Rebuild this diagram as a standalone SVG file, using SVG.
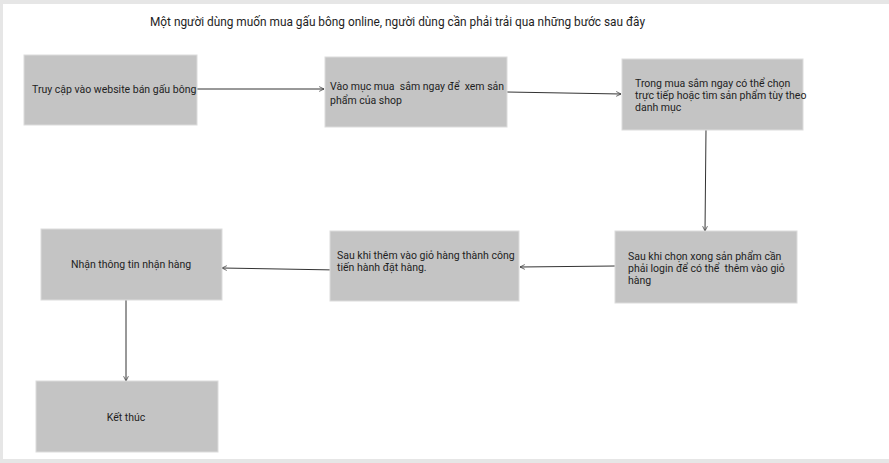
<svg xmlns="http://www.w3.org/2000/svg" width="889" height="463" viewBox="0 0 889 463">
<defs>
<marker id="arr" viewBox="0 0 10 10" refX="9" refY="5" markerWidth="6" markerHeight="6" orient="auto" markerUnits="userSpaceOnUse">
<path d="M1,1 L9,5 L1,9" fill="none" stroke="#333" stroke-width="1.2"/>
</marker>
<style>
.box{fill:#c4c4c4;stroke:#dcdcdc;stroke-width:1}
.t{font-family:Roboto,"Liberation Sans",sans-serif;font-size:10.5px;fill:#1e1e1e;white-space:pre}
.title{font-family:Roboto,"Liberation Sans",sans-serif;font-size:11.85px;fill:#1e1e1e}
.c{fill:none;stroke:#333;stroke-width:1}
</style>
</defs>
<rect x="0" y="0" width="889" height="463" fill="#e6e6e6"/>
<rect x="3" y="4" width="886" height="455" fill="#ffffff"/>
<text class="title" x="150" y="26">Một người dùng muốn mua gấu bông online, người dùng cần phải trải qua những bước sau đây</text>
<g id="connectors">
<line class="c" x1="196" y1="89" x2="324" y2="89" marker-end="url(#arr)"/>
<line class="c" x1="507" y1="92" x2="621" y2="94" marker-end="url(#arr)"/>
<line class="c" x1="706" y1="129" x2="705" y2="231" marker-end="url(#arr)"/>
<line class="c" x1="615" y1="266" x2="520" y2="267" marker-end="url(#arr)"/>
<line class="c" x1="337" y1="270" x2="222" y2="268" marker-end="url(#arr)"/>
<line class="c" x1="126" y1="300" x2="126" y2="381" marker-end="url(#arr)"/>
</g>
<g id="n1"><rect class="box" x="24" y="55" width="173" height="70"/><text class="t" x="32" y="93">Truy cập vào website bán gấu bông</text></g>
<g id="n2"><rect class="box" x="325" y="57" width="182" height="70"/><text class="t" x="330" y="90" xml:space="preserve">Vào mục mua  sắm ngay để  xem sản</text><text class="t" x="330" y="104">phẩm của shop</text></g>
<g id="n3"><rect class="box" x="622" y="59" width="181" height="71"/><text class="t" x="635" y="87">Trong mua sắm ngay có thể chọn</text><text class="t" x="635" y="99">trực tiếp hoặc tìm sản phẩm tùy theo</text><text class="t" x="635" y="111">danh mục</text></g>
<g id="n4"><rect class="box" x="615" y="231" width="182" height="72"/><text class="t" x="628" y="260">Sau khi chọn xong sản phẩm cần</text><text class="t" x="628" y="272" xml:space="preserve">phải login để có thể  thêm vào giỏ</text><text class="t" x="628" y="284">hàng</text></g>
<g id="n5"><rect class="box" x="330" y="231" width="189" height="70"/><text class="t" x="337" y="259">Sau khi thêm vào giỏ hàng thành công</text><text class="t" x="337" y="271">tiến hành đặt hàng.</text></g>
<g id="n6"><rect class="box" x="41" y="229" width="181" height="71"/><text class="t" x="131" y="268" text-anchor="middle">Nhận thông tin nhận hàng</text></g>
<g id="n7"><rect class="box" x="36" y="381" width="182" height="71"/><text class="t" x="126" y="421" text-anchor="middle">Kết thúc</text></g>
</svg>
